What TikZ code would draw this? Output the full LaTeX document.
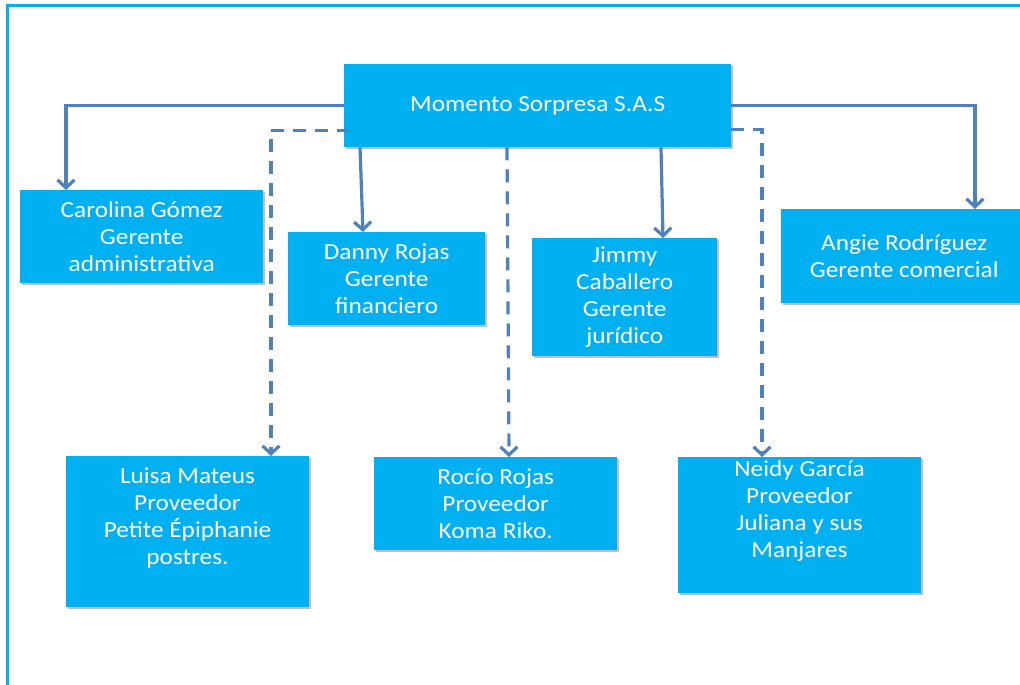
\documentclass[tikz,border=0pt]{standalone}
\usepackage{fontspec}
\setmainfont{Carlito}[FakeStretch=1.1]
\usetikzlibrary{arrows.meta,shadows}
\definecolor{boxblue}{HTML}{00B0F0}
\definecolor{linkblue}{HTML}{4F81BD}
\tikzset{
  orgbox/.style={fill=boxblue, inner sep=0pt, anchor=north west, text=white,
    align=center, font=\fontsize{23}{27}\selectfont,
    drop shadow={shadow xshift=2pt, shadow yshift=-2pt, opacity=0.25, fill=black}},
  orgtext/.style={text=white, align=center, inner sep=0pt, font=\fontsize{23}{27}\selectfont},
  conn/.style={draw=linkblue, line width=3.2pt, -{Straight Barb[length=8pt,width=17pt,line width=3.2pt]}},
  dconn/.style={conn, dash pattern=on 13pt off 9pt}
}
\begin{document}
\begin{tikzpicture}[x=1pt,y=-1pt]
\useasboundingbox (0,0) rectangle (1020,685);
\draw[boxblue, line width=3pt] (7,6) rectangle (1040,705);

\node[orgbox, minimum width=387pt, minimum height=83pt] (top) at (344,64) {Momento Sorpresa S.A.S};
\node[orgbox, minimum width=243pt, minimum height=93pt] (caro) at (20,190) {Carolina Gómez\\Gerente\\administrativa};
\node[orgbox, minimum width=197pt, minimum height=93pt] (danny) at (288,232) {Danny Rojas\\Gerente\\financiero};
\node[orgbox, minimum width=185pt, minimum height=118pt] (jimmy) at (532,238) {Jimmy\\Caballero\\Gerente\\jurídico};
\node[orgbox, minimum width=246pt, minimum height=94pt] (angie) at (781,209) {Angie Rodríguez\\Gerente comercial};
\node[orgbox, minimum width=243pt, minimum height=151pt] (luisa) at (66,456) {};
\node[orgtext] (luisaT) at (187.5,518) {Luisa Mateus\\Proveedor\\Petite Épiphanie\\postres.};
\node[orgbox, minimum width=243pt, minimum height=93pt] (rocio) at (374,457) {Rocío Rojas\\Proveedor\\Koma Riko.};
\node[orgbox, minimum width=243pt, minimum height=136pt] (neidy) at (678,457) {};
\node[orgtext] (neidyT) at (799.5,510.5) {Neidy García\\Proveedor\\Juliana y sus\\Manjares};

\draw[conn] (top.west) -| ([xshift=46pt]caro.north west);
\draw[conn] ([xshift=16pt]top.south west) -- ([xshift=75pt]danny.north west);
\draw[conn] ([xshift=317pt]top.south west) -- ([xshift=131pt]jimmy.north west);
\draw[conn] (top.east) -| ([xshift=194pt]angie.north west);
\draw[dconn] ([xshift=6pt,yshift=17pt]top.south west) -| ([xshift=205pt]luisa.north west);
\draw[dconn] ([xshift=163pt]top.south west) -- ([xshift=135pt]rocio.north west);
\draw[dconn] ([yshift=18pt]top.south east) -| ([xshift=84pt]neidy.north west);
\end{tikzpicture}
\end{document}
